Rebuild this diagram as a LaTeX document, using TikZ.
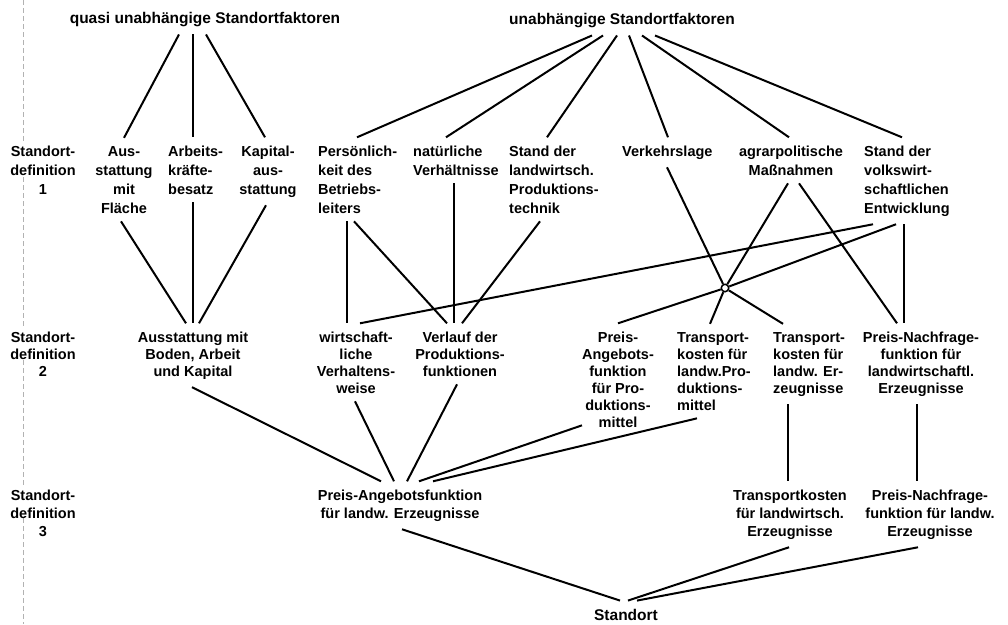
\documentclass[tikz,border=0pt]{standalone}
\usepackage{fontspec}
\setmainfont{Liberation Sans}
\tikzset{
	fac/.style={inner xsep=0pt, inner ysep=8pt, font=\bfseries\fontsize{14.5}{18}\selectfont},
	faca/.style={fac, font=\bfseries\fontsize{14.5}{19}\selectfont},
	facb/.style={fac, font=\bfseries\fontsize{14.5}{17}\selectfont},
	head/.style={fac, font=\bfseries\fontsize{15.5}{18}\selectfont},
	link/.style={line width=2pt},
	junction/.style={circle, draw, fill=white, line width=1.5pt, inner sep=0pt, minimum size=7.5pt},
	margin/.style={black!30, line width=0.5pt, dash pattern=on 5pt off 3pt}
}

\begin{document}
\begin{tikzpicture}[x=1pt, y=-1pt]
			%%%%% START %%%%%
			\useasboundingbox (0,0) rectangle (1008,624);
			
			\draw[margin] (23,0) -- (23,141);
			\draw[margin] (23,177) -- (23,328);
			\draw[margin] (23,360) -- (23,486);
			\draw[margin] (23,518) -- (23,624);
			
			% base = baseline of the last line
			\node[head, anchor=base] (quasi) at (205,23) {quasi unabhängige Standortfaktoren};
			\node[head, anchor=base] (unab) at (622,24) {unabhängige Standortfaktoren};
			
			\node[faca, anchor=base, align=center] (def1) at (43,194) {Standort-\\definition\\1};
			\node[facb, anchor=base, align=center] (def2) at (43,376) {Standort-\\definition\\2};
			\node[fac, anchor=base, align=center] (def3) at (43,536) {Standort-\\definition\\3};
			
			% Standortdefinition 1
			\node[faca, anchor=base, align=center] (aus) at (124,213) {Aus-\\stattung\\mit\\Fläche};
			\node[faca, anchor=base west, align=left] (arb) at (168,194) {Arbeits-\\kräfte-\\besatz};
			\node[faca, anchor=base, align=center] (kap) at (268,194) {Kapital-\\aus-\\stattung};
			\node[faca, anchor=base west, align=left] (pers) at (318,213) {Persönlich-\\keit des\\Betriebs-\\leiters};
			\node[faca, anchor=base west, align=left] (nat) at (413,175) {natürliche\\Verhältnisse};
			\node[faca, anchor=base west, align=left] (stl) at (509,213) {Stand der\\landwirtsch.\\Produktions-\\technik};
			\node[faca, anchor=base west] (verk) at (622,156) {Verkehrslage};
			\node[faca, anchor=base, align=center] (agr) at (791,175) {agrarpolitische\\Maßnahmen};
			\node[faca, anchor=base west, align=left] (svw) at (864,213) {Stand der\\volkswirt-\\schaftlichen\\Entwicklung};
			
			% Standortdefinition 2
			\node[facb, anchor=base, align=center] (ausb) at (193,376) {Ausstattung mit\\Boden, Arbeit\\und Kapital};
			\node[facb, anchor=base, align=center] (wirt) at (356,393) {wirtschaft-\\liche\\Verhaltens-\\weise};
			\node[facb, anchor=base, align=center] (verl) at (460,376) {Verlauf der\\Produktions-\\funktionen};
			\node[facb, anchor=base, align=center] (pam) at (618,427) {Preis-\\Angebots-\\funktion\\für Pro-\\duktions-\\mittel};
			\node[facb, anchor=base west, align=left] (tpm) at (677,410) {Transport-\\kosten für\\landw.Pro-\\duktions-\\mittel};
			\node[facb, anchor=base west, align=left] (te) at (773,393) {Transport-\\kosten für\\landw. Er-\\zeugnisse};
			\node[facb, anchor=base, align=center] (pnl) at (921,393) {Preis-Nachfrage-\\funktion für\\landwirtschaftl.\\Erzeugnisse};
			
			\node[junction] (jn) at (725,288) {};
			
			% Standortdefinition 3
			\node[fac, anchor=base, align=center] (paf) at (400,518) {Preis-Angebotsfunktion\\für landw. Erzeugnisse};
			\node[fac, anchor=base, align=center] (tkl) at (790,536) {Transportkosten\\für landwirtsch.\\Erzeugnisse};
			\node[fac, anchor=base, align=center] (pnf) at (930,536) {Preis-Nachfrage-\\funktion für landw.\\Erzeugnisse};
			
			\node[head, anchor=base] (std) at (626,620) {Standort};
			
			% quasi unabhaengige
			\draw[link] ([xshift=-26pt]quasi.south) -- (aus.north);
			\draw[link] ([xshift=-12pt]quasi.south) -- ([xshift=25pt]arb.north west);
			\draw[link] ([xshift=1pt]quasi.south) -- ([xshift=-3pt]kap.north);
			\draw[link] ([xshift=-3pt]aus.south) -- ([xshift=-7pt]ausb.north);
			\draw[link] ([xshift=25pt]arb.south west) -- (ausb.north);
			\draw[link] ([xshift=-2pt]kap.south) -- ([xshift=6pt]ausb.north);
			
			% unabhaengige
			\draw[link] ([xshift=-30pt]unab.south) -- ([xshift=39pt]pers.north west);
			\draw[link] ([xshift=-19pt]unab.south) -- ([xshift=33pt]nat.north west);
			\draw[link] ([xshift=-5pt]unab.south) -- ([xshift=38pt]stl.north west);
			\draw[link] ([xshift=7pt]unab.south) -- ([xshift=46pt]verk.north west);
			\draw[link] ([xshift=20pt]unab.south) -- ([xshift=-2pt]agr.north);
			\draw[link] ([xshift=33pt]unab.south) -- ([xshift=38pt]svw.north west);
			
			\draw[link] ([xshift=29pt]pers.south west) -- ([xshift=-9pt]wirt.north);
			\draw[link] ([xshift=36pt]pers.south west) -- ([xshift=-13pt]verl.north);
			\draw[link] ([xshift=41pt]nat.south west) -- ([xshift=-6pt]verl.north);
			\draw[link] ([xshift=31pt]stl.south west) -- ([xshift=2pt]verl.north);
			\draw[link] ([xshift=9pt]svw.south west) -- ([xshift=4pt]wirt.north);
			\draw[link] ([xshift=32pt]svw.south west) -- (jn);
			\draw[link] ([xshift=40pt]svw.south west) -- ([xshift=-17pt]pnl.north);
			\draw[link] ([xshift=45pt]verk.south west) -- (jn);
			\draw[link] ([xshift=-3pt]agr.south) -- (jn);
			\draw[link] ([xshift=8pt]agr.south) -- ([xshift=-24pt]pnl.north);
			\draw[link] (jn) -- (pam.north);
			\draw[link] (jn) -- ([xshift=33pt]tpm.north west);
			\draw[link] (jn) -- ([xshift=10pt]te.north west);
			
			\draw[link] ([xshift=-1pt]ausb.south) -- ([xshift=-19pt]paf.north);
			\draw[link] ([xshift=-1pt]wirt.south) -- ([xshift=-6pt]paf.north);
			\draw[link] ([xshift=-3pt]verl.south) -- ([xshift=7pt]paf.north);
			\draw[link] ([yshift=10pt]pam.south west) -- ([xshift=19pt]paf.north);
			\draw[link] ([xshift=20pt]tpm.south west) -- ([xshift=33pt]paf.north);
			\draw[link] ([xshift=15pt]te.south west) -- ([xshift=-2pt]tkl.north);
			\draw[link] ([xshift=-4pt]pnl.south) -- ([xshift=-13pt]pnf.north);
			
			\draw[link] ([xshift=2pt]paf.south) -- ([xshift=-6pt]std.north);
			\draw[link] ([xshift=-1pt]tkl.south) -- ([xshift=2pt]std.north);
			\draw[link] ([xshift=-12pt]pnf.south) -- ([xshift=11pt]std.north);
			
			%%%%% END %%%%%
\end{tikzpicture}
\end{document}
